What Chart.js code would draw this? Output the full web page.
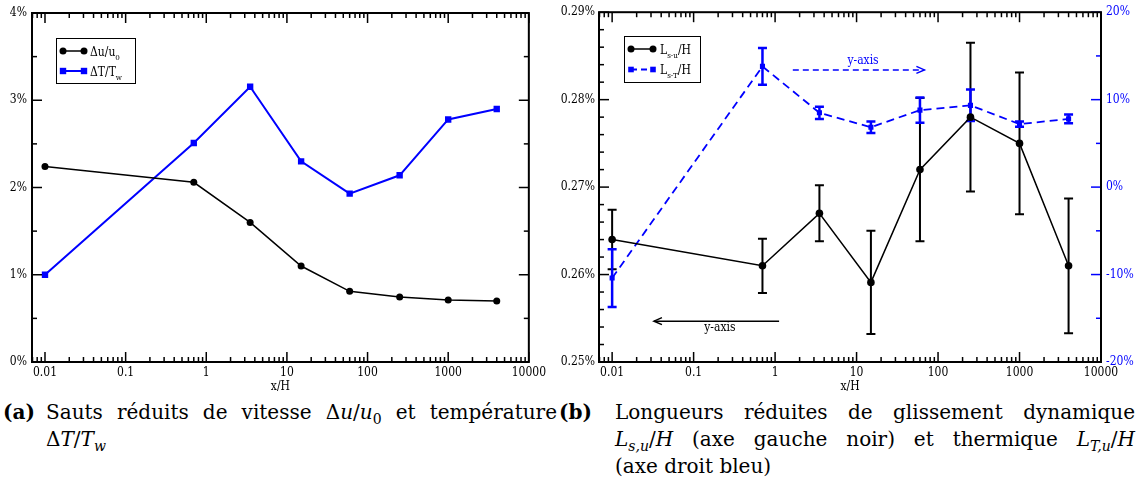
<!DOCTYPE html>
<html>
<head>
<meta charset="utf-8">
<script src="https://cdn.jsdelivr.net/npm/chart.js@4.4.0/dist/chart.umd.min.js"></script>
<style>
  body { margin: 0; width: 1144px; height: 493px; background: #fff; position: relative; overflow: hidden; }
  #boiteA { position: absolute; left: 0; top: 0; }
  #boiteB { position: absolute; left: 550px; top: 0; }
  .legende { position: absolute; font-family: 'DejaVu Serif', serif; font-size: 20px; line-height: 27px; white-space: nowrap; color: #000; }
  .legende sub { font-size: 14px; line-height: 0; }
  .justifie { text-align: justify; text-align-last: justify; }
</style>
</head>
<body>
<div id="boiteA"><canvas id="graphA" width="550" height="395"></canvas></div>
<div id="boiteB"><canvas id="graphB" width="594" height="395"></canvas></div>

<div class="legende" style="left:3px;top:399px"><b>(a)</b></div>
<div class="legende justifie" style="left:46px;top:399px;width:511px">Sauts réduits de vitesse Δ<i>u</i>/<i>u</i><sub>0</sub> et température</div>
<div class="legende" style="left:46px;top:426px">Δ<i>T</i>/<i>T<sub>w</sub></i></div>

<div class="legende" style="left:559px;top:399px"><b>(b)</b></div>
<div class="legende justifie" style="left:615px;top:399px;width:520px">Longueurs réduites de glissement dynamique</div>
<div class="legende justifie" style="left:615px;top:426px;width:520px"><i>L<sub>s,u</sub></i>/<i>H</i> (axe gauche noir) et thermique <i>L<sub>T,u</sub></i>/<i>H</i></div>
<div class="legende" style="left:615px;top:453px">(axe droit bleu)</div>

<script>
// Positions x/H communes aux deux graphiques
const positions = [0.01, 0.7, 3.5, 15, 60, 250, 1000, 4000];

// (a) sauts réduits, en %
const sautVitesse = [2.24, 2.06, 1.60, 1.10, 0.81, 0.745, 0.71, 0.70];
const sautTemperature = [1.0, 2.51, 3.155, 2.30, 1.93, 2.14, 2.78, 2.90];

// (b) longueurs de glissement, en % (axe gauche) et écart en % (axe droit)
const glissDynamique = [0.2640, 0.2610, 0.2670, 0.2591, 0.2720, 0.2780, 0.2750, 0.2610];
const glissDynamiqueErr = [0.0034, 0.0031, 0.0032, 0.0059, 0.0082, 0.0085, 0.0081, 0.0077];
const glissThermique = [-10.4, 13.8, 8.5, 6.85, 8.8, 9.35, 7.2, 7.8];
const glissThermiqueErr = [3.3, 2.1, 0.7, 0.65, 1.45, 1.8, 0.3, 0.5];

// Graduations
const ticksX = [0.01, 0.1, 1, 10, 100, 1000, 10000];
const ticksXLabels = ['0.01', '0.1', '1', '10', '100', '1000', '10000'];
const ticksYA = [0, 1, 2, 3, 4];
const ticksYALabels = ['0%', '1%', '2%', '3%', '4%'];
const ticksYB = [0.25, 0.26, 0.27, 0.28, 0.29];
const ticksYBLabels = ['0.25%', '0.26%', '0.27%', '0.28%', '0.29%'];
const ticksYB2 = [-20, -10, 0, 10, 20];
const ticksYB2Labels = ['-20%', '-10%', '0%', '10%', '20%'];

const BLEU = '#0000ff';
const xMin = 0.0069, xMax = 10000;
const POLICE = "'DejaVu Serif Condensed', 'DejaVu Serif', serif";

Chart.defaults.font.family = POLICE;
Chart.defaults.font.size = 12;
Chart.defaults.color = '#000';

// Cadre et graduations intérieures (style xmgrace)
const cadre = {
    id: 'cadre',
    afterDraw(chart, args, opts) {
        const ctx = chart.ctx, a = chart.chartArea, x = chart.scales.x;
        ctx.save();
        ctx.lineWidth = 1.5;
        ctx.strokeStyle = '#000';
        const trait = (x0, y0, x1, y1) => { ctx.beginPath(); ctx.moveTo(x0, y0); ctx.lineTo(x1, y1); ctx.stroke(); };
        for (let d = -3; d <= 4; d++) {
            for (let m = 1; m <= 9; m++) {
                const v = m * Math.pow(10, d);
                if (v < x.min || v > x.max * 1.0001) continue;
                const px = x.getPixelForValue(v);
                const l = m === 1 ? 10 : 5;
                trait(px, a.bottom, px, a.bottom - l);
                trait(px, a.top, px, a.top + l);
            }
        }
        for (const ax of opts.axes) {
            const s = chart.scales[ax.id];
            ctx.strokeStyle = ax.color;
            const n = Math.round((s.max - s.min) / ax.mineur);
            for (let i = 0; i <= n; i++) {
                const v = s.min + i * ax.mineur;
                const r = (i * ax.mineur) / ax.majeur;
                const l = Math.abs(r - Math.round(r)) < 1e-6 ? 10 : 5;
                const py = s.getPixelForValue(v);
                if (ax.cotes.includes('gauche')) trait(a.left, py, a.left + l, py);
                if (ax.cotes.includes('droite')) trait(a.right, py, a.right - l, py);
            }
        }
        ctx.strokeStyle = '#000';
        ctx.lineWidth = 2;
        ctx.strokeRect(a.left, a.top, a.right - a.left, a.bottom - a.top);
        ctx.restore();
    }
};

// Barres d'erreur
const barresErreur = {
    id: 'barresErreur',
    beforeDatasetsDraw(chart, args, opts) {
        const ctx = chart.ctx;
        ctx.save();
        for (const b of opts.series || []) {
            const ds = chart.data.datasets[b.dataset];
            const sy = chart.scales[ds.yAxisID];
            ctx.strokeStyle = b.couleur;
            ctx.lineWidth = b.epaisseur;
            ds.data.forEach((p, i) => {
                const px = chart.scales.x.getPixelForValue(p.x);
                const y0 = sy.getPixelForValue(p.y - b.err[i]);
                const y1 = sy.getPixelForValue(p.y + b.err[i]);
                ctx.beginPath();
                ctx.moveTo(px, y0); ctx.lineTo(px, y1);
                ctx.moveTo(px - b.chapeau, y0); ctx.lineTo(px + b.chapeau, y0);
                ctx.moveTo(px - b.chapeau, y1); ctx.lineTo(px + b.chapeau, y1);
                ctx.stroke();
            });
        }
        ctx.restore();
    }
};

// Légende encadrée avec indices
const legendeCadre = {
    id: 'legendeCadre',
    afterDraw(chart, args, opts) {
        const ctx = chart.ctx, b = opts.boite;
        ctx.save();
        ctx.fillStyle = '#fff';
        ctx.fillRect(b.x, b.y, b.w, b.h);
        ctx.strokeStyle = '#000';
        ctx.lineWidth = 1;
        ctx.strokeRect(b.x + 0.5, b.y + 0.5, b.w, b.h);
        opts.entrees.forEach((e, k) => {
            const y = b.y + opts.premier + k * opts.ecart;
            const x0 = b.x + opts.trait[0], x1 = b.x + opts.trait[1];
            ctx.strokeStyle = e.couleur;
            ctx.fillStyle = e.couleur;
            ctx.lineWidth = e.epaisseur;
            ctx.setLineDash(e.tirets || []);
            ctx.beginPath(); ctx.moveTo(x0, y); ctx.lineTo(x1, y); ctx.stroke();
            ctx.setLineDash([]);
            for (const px of [x0, x1]) {
                ctx.beginPath();
                if (e.forme === 'circle') ctx.arc(px, y, e.taille, 0, Math.PI * 2);
                else ctx.rect(px - e.taille, y - e.taille, e.taille * 2, e.taille * 2);
                ctx.fill();
            }
            ctx.fillStyle = '#000';
            ctx.textBaseline = 'alphabetic';
            let tx = b.x + opts.texte;
            const base = y + 4.5;
            ctx.font = '12px ' + POLICE;
            ctx.fillText(e.avant, tx, base);
            tx += ctx.measureText(e.avant).width;
            ctx.font = '8px ' + POLICE;
            ctx.fillText(e.indice, tx, base + 4);
            tx += ctx.measureText(e.indice).width;
            ctx.font = '12px ' + POLICE;
            ctx.fillText(e.apres, tx, base);
        });
        ctx.restore();
    }
};

// Flèches « y-axis »
const fleches = {
    id: 'fleches',
    afterDatasetsDraw(chart, args, opts) {
        const ctx = chart.ctx, sx = chart.scales.x;
        ctx.save();
        for (const f of opts.liste || []) {
            const sy = chart.scales[f.axe];
            const xa = sx.getPixelForValue(f.de), xb = sx.getPixelForValue(f.vers);
            const y = sy.getPixelForValue(f.y);
            ctx.strokeStyle = f.couleur;
            ctx.lineWidth = 1.5;
            ctx.setLineDash(f.tirets || []);
            ctx.beginPath(); ctx.moveTo(xa, y); ctx.lineTo(xb, y); ctx.stroke();
            ctx.setLineDash([]);
            const dir = xb > xa ? -1 : 1;
            ctx.beginPath();
            ctx.moveTo(xb + dir * 8, y - 3.5); ctx.lineTo(xb, y); ctx.lineTo(xb + dir * 8, y + 3.5);
            ctx.stroke();
            ctx.fillStyle = f.couleur;
            ctx.font = '12px ' + POLICE;
            ctx.textAlign = 'center';
            ctx.textBaseline = 'middle';
            ctx.fillText(f.texte, sx.getPixelForValue(f.tx), sy.getPixelForValue(f.ty));
        }
        ctx.restore();
    }
};

function axeX() {
    return {
        type: 'logarithmic',
        min: xMin,
        max: xMax,
        afterBuildTicks: s => { s.ticks = ticksX.map(v => ({ value: v })); },
        afterFit: s => { s.height = 33; },
        ticks: { callback: (v, i) => ticksXLabels[i], autoSkip: false, maxRotation: 0, padding: 4 },
        grid: { display: false, drawTicks: false },
        border: { display: false },
        title: { display: true, text: 'x/H', padding: { top: 0, bottom: 1 } }
    };
}

function axeY(min, max, valeurs, etiquettes, largeur, position, couleur, pad) {
    return {
        type: 'linear',
        position: position,
        min: min,
        max: max,
        afterBuildTicks: s => { s.ticks = valeurs.map(v => ({ value: v })); },
        afterFit: s => { s.width = largeur; },
        ticks: { callback: (v, i) => etiquettes[i], color: couleur, padding: pad },
        grid: { display: false, drawTicks: false },
        border: { display: false }
    };
}

const points = ys => positions.map((x, i) => ({ x: x, y: ys[i] }));

new Chart(document.getElementById('graphA'), {
    type: 'line',
    data: {
        datasets: [{
            label: 'Δu/u0',
            data: points(sautVitesse),
            yAxisID: 'y',
            borderColor: '#000',
            backgroundColor: '#000',
            borderWidth: 1.5,
            pointStyle: 'circle',
            pointRadius: 3.5,
            pointBorderWidth: 0
        }, {
            label: 'ΔT/Tw',
            data: points(sautTemperature),
            yAxisID: 'y',
            borderColor: BLEU,
            backgroundColor: BLEU,
            borderWidth: 2,
            pointStyle: 'rect',
            pointRadius: 4.5,
            pointBorderWidth: 0
        }]
    },
    options: {
        responsive: false,
        animation: false,
        layout: { padding: { top: 13, right: 19, left: 0, bottom: 0 } },
        scales: {
            x: axeX(),
            y: axeY(0, 4, ticksYA, ticksYALabels, 32, 'left', '#000', 5)
        },
        plugins: {
            legend: { display: false },
            tooltip: { enabled: false },
            cadre: { axes: [{ id: 'y', majeur: 1, mineur: 0.5, cotes: ['gauche', 'droite'], color: '#000' }] },
            legendeCadre: {
                boite: { x: 56, y: 38, w: 79, h: 45 },
                premier: 13, ecart: 20, trait: [7, 28], texte: 34,
                entrees: [
                    { avant: 'Δu/u', indice: '0', apres: '', couleur: '#000', epaisseur: 1.5, forme: 'circle', taille: 3.5 },
                    { avant: 'ΔT/T', indice: 'w', apres: '', couleur: BLEU, epaisseur: 2, forme: 'rect', taille: 3.2 }
                ]
            }
        }
    },
    plugins: [cadre, legendeCadre]
});

new Chart(document.getElementById('graphB'), {
    type: 'line',
    data: {
        datasets: [{
            label: 'Ls-u/H',
            data: points(glissDynamique),
            yAxisID: 'y',
            borderColor: '#000',
            backgroundColor: '#000',
            borderWidth: 1.5,
            pointStyle: 'circle',
            pointRadius: 3.8,
            pointBorderWidth: 0
        }, {
            label: 'Ls-T/H',
            data: points(glissThermique),
            yAxisID: 'y2',
            borderColor: BLEU,
            backgroundColor: BLEU,
            borderWidth: 1.8,
            borderDash: [8, 5],
            pointStyle: 'rect',
            pointRadius: 3.6,
            pointBorderWidth: 0
        }]
    },
    options: {
        responsive: false,
        animation: false,
        layout: { padding: { top: 11, right: 0, left: 0, bottom: 0 } },
        scales: {
            x: axeX(),
            y: axeY(0.25, 0.29, ticksYB, ticksYBLabels, 49, 'left', '#000', 4),
            y2: axeY(-20, 20, ticksYB2, ticksYB2Labels, 43, 'right', BLEU, 5)
        },
        plugins: {
            legend: { display: false },
            tooltip: { enabled: false },
            cadre: {
                axes: [
                    { id: 'y', majeur: 0.01, mineur: 0.002, cotes: ['gauche'], color: '#000' },
                    { id: 'y2', majeur: 10, mineur: 5, cotes: ['droite'], color: BLEU }
                ]
            },
            barresErreur: {
                series: [
                    { dataset: 0, err: glissDynamiqueErr, couleur: '#000', epaisseur: 2, chapeau: 4.5 },
                    { dataset: 1, err: glissThermiqueErr, couleur: BLEU, epaisseur: 2.5, chapeau: 4.5 }
                ]
            },
            fleches: {
                liste: [
                    { axe: 'y2', de: 1.65, vers: 68, y: 13.4, couleur: BLEU, tirets: [6, 4], texte: 'y-axis', tx: 12, ty: 14.4 },
                    { axe: 'y', de: 1.12, vers: 0.0326, y: 0.25467, couleur: '#000', texte: 'y-axis', tx: 0.21, ty: 0.25395 }
                ]
            },
            legendeCadre: {
                boite: { x: 74, y: 36, w: 76, h: 46 },
                premier: 13, ecart: 20.5, trait: [7, 29], texte: 36,
                entrees: [
                    { avant: 'L', indice: 's-u', apres: '/H', couleur: '#000', epaisseur: 1.5, forme: 'circle', taille: 3.5 },
                    { avant: 'L', indice: 's-T', apres: '/H', couleur: BLEU, epaisseur: 1.8, tirets: [6, 4], forme: 'rect', taille: 2.8 }
                ]
            }
        }
    },
    plugins: [barresErreur, cadre, fleches, legendeCadre]
});
</script>
</body>
</html>
